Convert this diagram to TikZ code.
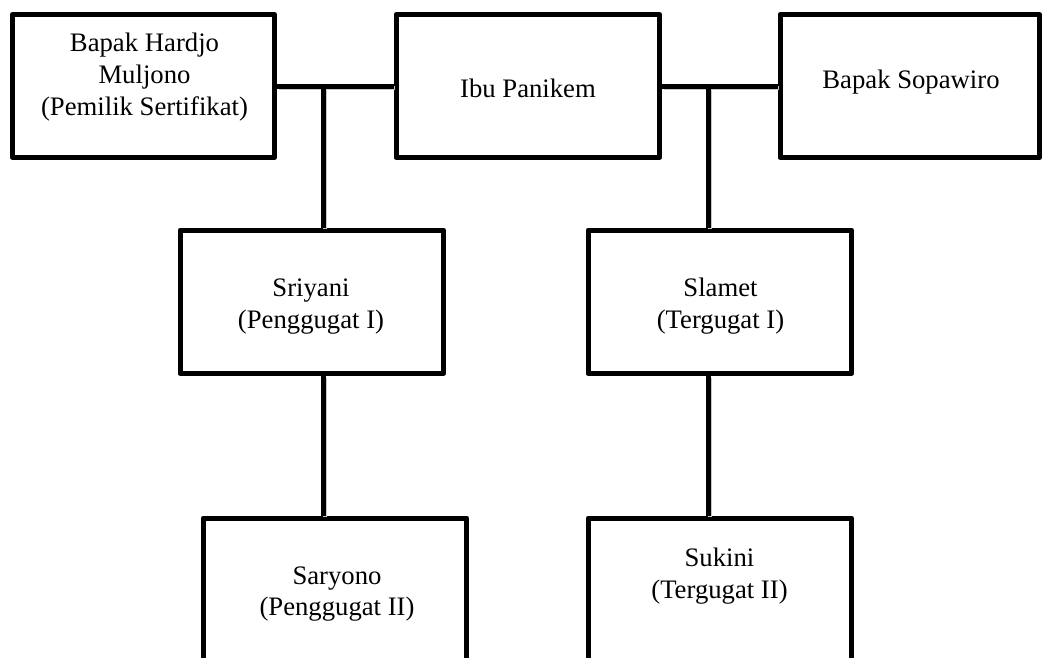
\documentclass[tikz,border=0pt]{standalone}
\usepackage{fontspec}
\setmainfont{Liberation Serif}
\newcommand\txtlines[1]{\begin{tabular}[t]{@{}c@{}}#1\end{tabular}}
\begin{document}
\begin{tikzpicture}[x=1pt,y=-1pt,
  personbox/.style={draw=black, line width=5pt, line join=round, inner sep=0pt,
    minimum width=263.5pt, minimum height=143.5pt, fill=white},
  boxtext/.style={anchor=base, inner sep=0pt, font=\fontsize{26.7}{31.7}\selectfont},
  wire/.style={draw=black, line width=5pt},
  wireshadow/.style={draw=black!22, line width=4pt, line cap=butt}]
\clip (0,0) rectangle (1042,657);
\fill[white] (0,0) rectangle (1042,657);

% junction points of the two couples
\coordinate (jL) at (323.5,86);
\coordinate (jR) at (708.5,86);

% boxes
\node[personbox, minimum width=262pt, minimum height=143pt] (hardjo) at (143.5,86) {};
\node[personbox, minimum height=143pt] (panikem) at (527.75,86) {};
\node[personbox, minimum width=259.5pt, minimum height=143pt] (sopawiro) at (909.75,86) {};
\node[personbox] (sriyani) at (311.75,301.75) {};
\node[personbox] (slamet) at (719.75,301.75) {};
\node[personbox] (saryono) at (335,589.75) {};
\node[personbox] (sukini) at (719.8,589.75) {};

% shadows of connectors
\begin{scope}[transform canvas={shift={(1.8pt,-1.8pt)}}]
\draw[wireshadow] (hardjo.east) -- (panikem.west);
\draw[wireshadow] (panikem.east) -- (sopawiro.west);
\draw[wireshadow] (jL) -- (sriyani.north -| jL);
\draw[wireshadow] (sriyani.south -| jL) -- (saryono.north -| jL);
\draw[wireshadow] (jR) -- (slamet.north -| jR);
\draw[wireshadow] (slamet.south -| jR) -- (sukini.north -| jR);
\end{scope}

% connectors
\draw[wire] (hardjo.east) -- (panikem.west);
\draw[wire] (panikem.east) -- (sopawiro.west);
\draw[wire] (jL) -- (sriyani.north -| jL);
\draw[wire] (sriyani.south -| jL) -- (saryono.north -| jL);
\draw[wire] (jR) -- (slamet.north -| jR);
\draw[wire] (slamet.south -| jR) -- (sukini.north -| jR);

% texts
\node[boxtext] (t-hardjo) at (144.5,51.7) {\txtlines{Bapak Hardjo\\Muljono\\(Pemilik Sertifikat)}};
\node[boxtext] (t-panikem) at (528,97.3) {Ibu Panikem};
\node[boxtext] (t-sopawiro) at (911,88.3) {Bapak Sopawiro};
\node[boxtext] (t-sriyani) at (311,296.7) {\txtlines{Sriyani\\(Penggugat I)}};
\node[boxtext] (t-slamet) at (720.5,296.7) {\txtlines{Slamet\\(Tergugat I)}};
\node[boxtext] (t-saryono) at (337,584) {\txtlines{Saryono\\(Penggugat II)}};
\node[boxtext] (t-sukini) at (719.5,566.7) {\txtlines{Sukini\\(Tergugat II)}};
\end{tikzpicture}
\end{document}
